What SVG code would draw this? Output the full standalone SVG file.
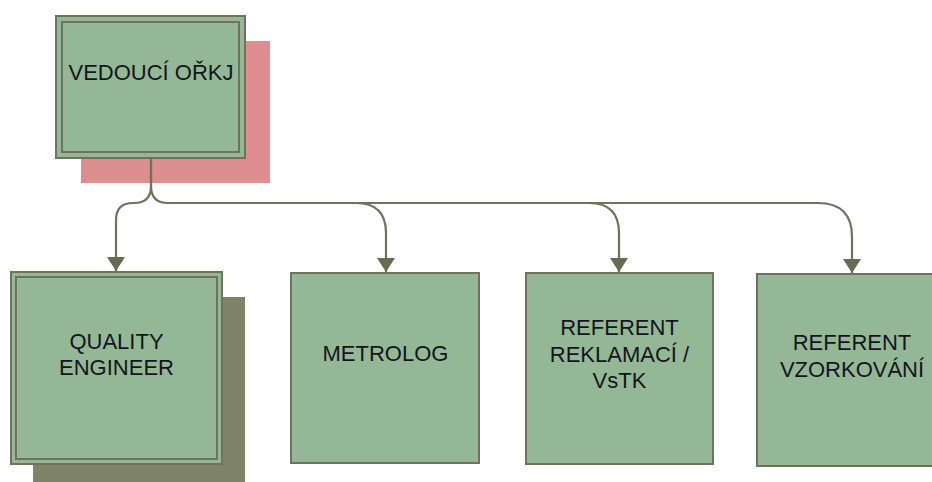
<svg xmlns="http://www.w3.org/2000/svg" width="932" height="482" viewBox="0 0 932 482">
  <defs>
    <style>
      .box { fill: #94b895; stroke: #6f725c; stroke-width: 2; }
      .inner { fill: none; stroke: #6f725c; stroke-width: 2; }
      .label { font-family: "Liberation Sans", Arial, sans-serif; font-size: 22px; fill: #14141f; text-anchor: middle; }
      .link { fill: none; stroke: #6f725c; stroke-width: 2.2; }
    </style>
    <!-- triangular arrowhead drawn along +x, tip at the path end -->
    <marker id="arrow" markerWidth="14" markerHeight="18" refX="14" refY="9" orient="auto" markerUnits="userSpaceOnUse" viewBox="0 0 14 18">
      <path d="M0,0 L14,9 L0,18 Z" fill="#686b54"/>
    </marker>
  </defs>
  <rect width="932" height="482" fill="#ffffff"/>

  <!-- head of department -->
  <g id="vedouci">
    <rect x="81" y="41" width="189" height="142" fill="#de8e8e"/>
    <rect class="box" x="56" y="16" width="189" height="142"/>
    <rect class="inner" x="62" y="22" width="177" height="130"/>
    <text class="label" x="151" y="80">VEDOUCÍ OŘKJ</text>
  </g>

  <!-- connectors -->
  <g id="connectors">
    <path class="link" d="M151,158 V186 Q151,203 134,203 H133 Q116,203 116,220 V271" marker-end="url(#arrow)"/>
    <path class="link" d="M151,158 V186 Q151,203 168,203 H356 Q386,203 386,233 V272" marker-end="url(#arrow)"/>
    <path class="link" d="M356,203 H589 Q619,203 619,233 V272" marker-end="url(#arrow)"/>
    <path class="link" d="M589,203 H818 Q852,203 852,237 V273" marker-end="url(#arrow)"/>
  </g>

  <g id="quality-engineer">
    <rect x="33" y="297" width="212" height="190" fill="#7f8469"/>
    <rect class="box" x="11" y="272" width="211" height="192"/>
    <rect class="inner" x="16" y="277" width="201" height="182"/>
    <text class="label" x="116.5" y="349">QUALITY</text>
    <text class="label" x="116.5" y="375">ENGINEER</text>
  </g>

  <g id="metrolog">
    <rect class="box" x="291" y="273" width="188" height="190"/>
    <text class="label" x="385.5" y="361">METROLOG</text>
  </g>

  <g id="referent-reklamaci">
    <rect class="box" x="526" y="273" width="187" height="191"/>
    <text class="label" x="619.5" y="335">REFERENT</text>
    <text class="label" x="619.5" y="362">REKLAMACÍ /</text>
    <text class="label" x="619.5" y="388">VsTK</text>
  </g>

  <g id="referent-vzorkovani">
    <rect class="box" x="757" y="274" width="190" height="192"/>
    <text class="label" x="852" y="350">REFERENT</text>
    <text class="label" x="852" y="377">VZORKOVÁNÍ</text>
  </g>
</svg>
